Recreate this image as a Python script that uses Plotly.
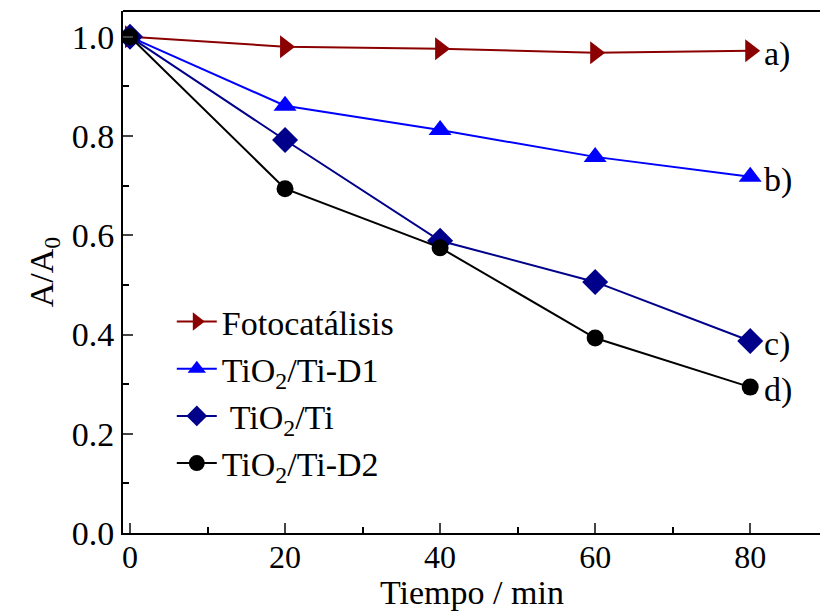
import plotly.graph_objects as go

tiempo = [0, 20, 40, 60, 80]
foto = [1.0, 0.980, 0.976, 0.968, 0.972]
d1 = [1.0, 0.861, 0.812, 0.758, 0.718]
tio2 = [1.0, 0.792, 0.589, 0.506, 0.387]
d2 = [1.0, 0.694, 0.575, 0.393, 0.294]
names = ["Fotocatálisis", "TiO<sub>2</sub>/Ti-D1", " TiO<sub>2</sub>/Ti", "TiO<sub>2</sub>/Ti-D2"]
tags = ["a)", "b)", "c)", "d)"]
x_title = "Tiempo / min"

series = [foto, d1, tio2, d2]
colors = ["#8B0000", "#0000FF", "#00008B", "#000000"]
symbols = ["triangle-right", "triangle-up", "diamond", "circle"]
sizes = [20, 20, 20, 17]

fig = go.Figure()
for s, n, c, sym, sz in zip(series, names, colors, symbols, sizes):
    fig.add_trace(go.Scatter(x=tiempo, y=s, name=n, mode="lines+markers",
                             line=dict(color=c, width=2),
                             marker=dict(symbol=sym, size=sz, color=c)))

for s, t in zip(series, tags):
    fig.add_annotation(x=tiempo[-1], y=s[-1], text=t, showarrow=False,
                       xanchor="left", xshift=12, yshift=-3,
                       font=dict(family="Liberation Serif", size=34, color="black"))

# x-axis title as annotation at the very bottom
fig.add_annotation(x=0.5, xref="paper", y=-78 / 522, yref="paper", text=x_title,
                   showarrow=False, xanchor="center", yanchor="bottom", yshift=-2,
                   font=dict(family="Liberation Serif", size=34, color="black"))

fig.update_layout(
    width=820, height=611,
    margin=dict(l=123, r=0, t=11, b=78),
    paper_bgcolor="white", plot_bgcolor="white",
    font=dict(family="Liberation Serif", size=34, color="black"),
    showlegend=True,
    legend=dict(x=0.07, y=0.46, xanchor="left", yanchor="top",
                bgcolor="rgba(0,0,0,0)", font=dict(size=34),
                itemwidth=40, tracegroupgap=0),
    xaxis=dict(range=[-0.9, 89], tickvals=[0, 20, 40, 60, 80],
               ticks="inside", ticklen=10, tickwidth=2, showgrid=False, zeroline=False,
               showline=True, linewidth=2, linecolor="black", mirror=False,
               minor=dict(dtick=10, tick0=0, ticks="inside", ticklen=6, tickwidth=2, tickcolor="black"),
               ticklabelstandoff=-5,
               tickfont=dict(size=32)),
    yaxis=dict(range=[0, 1.052], tickvals=[0, 0.2, 0.4, 0.6, 0.8, 1.0],
               ticktext=["0.0", "0.2", "0.4", "0.6", "0.8", "1.0"],
               ticks="inside", ticklen=10, tickwidth=2, showgrid=False, zeroline=False,
               showline=True, linewidth=2, linecolor="black",
               minor=dict(dtick=0.1, tick0=0, ticks="inside", ticklen=6, tickwidth=2, tickcolor="black"),
               title=dict(text="A/A<sub>0</sub>", font=dict(size=34), standoff=8),
               tickfont=dict(size=34)),
)
fig.add_shape(type="line", xref="paper", yref="paper", x0=0, x1=1, y0=1, y1=1,
              line=dict(color="black", width=2))

fig.write_html("out.html")
